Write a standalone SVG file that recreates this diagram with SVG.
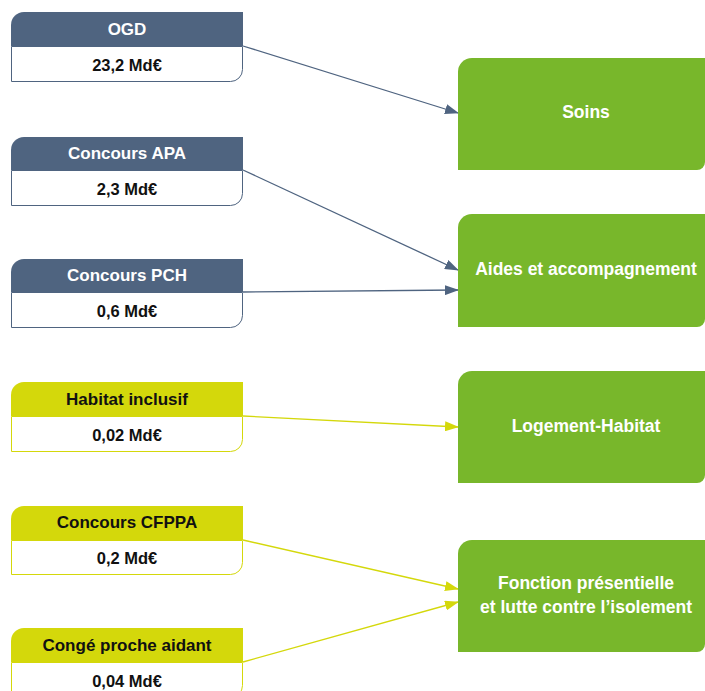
<svg xmlns="http://www.w3.org/2000/svg" width="705" height="691" viewBox="0 0 705 691">
<defs>
<style>
.hd{font-family:"Liberation Sans",Arial,sans-serif;font-weight:bold;font-size:17px;text-anchor:middle}
.val{font-family:"Liberation Sans",Arial,sans-serif;font-weight:bold;font-size:16.5px;fill:#111;text-anchor:middle}
.rt{font-family:"Liberation Sans",Arial,sans-serif;font-weight:bold;font-size:17.5px;fill:#fff;text-anchor:middle}
.blue{fill:#4f6480}
.yel{fill:#d4d80b}
.green{fill:#78b72b}
.bb{fill:#fff;stroke:#4f6480;stroke-width:1}
.yb{fill:#fff;stroke:#d4d80b;stroke-width:1}
.cb{stroke:#4f6480;stroke-width:1.3;fill:none;marker-end:url(#ab)}
.cy{stroke:#d4d80b;stroke-width:1.3;fill:none;marker-end:url(#ay)}
</style>
<marker id="ab" markerWidth="14" markerHeight="10" refX="13" refY="5" orient="auto" markerUnits="userSpaceOnUse"><path d="M0,0 L14,5 L0,10 Z" fill="#4f6480"/></marker>
<marker id="ay" markerWidth="14" markerHeight="10" refX="13" refY="5" orient="auto" markerUnits="userSpaceOnUse"><path d="M0,0 L14,5 L0,10 Z" fill="#d4d80b"/></marker>
</defs>
<rect width="705" height="691" fill="#fff"/>
<g id="connectors">
<line class="cb" x1="243" y1="46" x2="458" y2="113"/>
<line class="cb" x1="243" y1="170" x2="458" y2="270"/>
<line class="cb" x1="243" y1="292" x2="458" y2="290"/>
<line class="cy" x1="243" y1="416" x2="458" y2="427"/>
<line class="cy" x1="243" y1="540" x2="458" y2="589"/>
<line class="cy" x1="243" y1="662" x2="458" y2="602"/>
</g>
<g id="ogd">
<path class="bb" d="M11.5,46.5 H242.5 V69.5 A12,12 0 0 1 230.5,81.5 H11.5 Z"/>
<path class="blue" d="M11,46 V25 A13,13 0 0 1 24,12 H243 V46 Z"/>
<text class="hd" x="127" y="35" fill="#fff">OGD</text>
<text class="val" x="127" y="71">23,2 Md€</text>
</g>
<g id="apa">
<path class="bb" d="M11.5,170.5 H242.5 V193.5 A12,12 0 0 1 230.5,205.5 H11.5 Z"/>
<path class="blue" d="M11,170 V150 A13,13 0 0 1 24,137 H243 V170 Z"/>
<text class="hd" x="127" y="159" fill="#fff">Concours APA</text>
<text class="val" x="127" y="195">2,3 Md€</text>
</g>
<g id="pch">
<path class="bb" d="M11.5,292.5 H242.5 V315.5 A12,12 0 0 1 230.5,327.5 H11.5 Z"/>
<path class="blue" d="M11,292 V272 A13,13 0 0 1 24,259 H243 V292 Z"/>
<text class="hd" x="127" y="281" fill="#fff">Concours PCH</text>
<text class="val" x="127" y="317">0,6 Md€</text>
</g>
<g id="habitat">
<path class="yb" d="M11.5,416.5 H242.5 V439.5 A12,12 0 0 1 230.5,451.5 H11.5 Z"/>
<path class="yel" d="M11,416 V395 A13,13 0 0 1 24,382 H243 V416 Z"/>
<text class="hd" x="127" y="405" fill="#111">Habitat inclusif</text>
<text class="val" x="127" y="441">0,02 Md€</text>
</g>
<g id="cfppa">
<path class="yb" d="M11.5,540.5 H242.5 V562.5 A12,12 0 0 1 230.5,574.5 H11.5 Z"/>
<path class="yel" d="M11,540 V519 A13,13 0 0 1 24,506 H243 V540 Z"/>
<text class="hd" x="127" y="528" fill="#111">Concours CFPPA</text>
<text class="val" x="127" y="564">0,2 Md€</text>
</g>
<g id="conge">
<path class="yb" d="M11.5,662.5 H242.5 V685.5 A12,12 0 0 1 230.5,697.5 H11.5 Z"/>
<path class="yel" d="M11,662 V641 A13,13 0 0 1 24,628 H243 V662 Z"/>
<text class="hd" x="127" y="651" fill="#111">Congé proche aidant</text>
<text class="val" x="127" y="687">0,04 Md€</text>
</g>
<g id="soins">
<path class="green" d="M458,170 V72 A14,14 0 0 1 472,58 H705 V162 A8,8 0 0 1 697,170 Z"/>
<text class="rt" x="586" y="118">Soins</text>
</g>
<g id="aides">
<path class="green" d="M458,327 V228 A14,14 0 0 1 472,214 H705 V319 A8,8 0 0 1 697,327 Z"/>
<text class="rt" x="586" y="275">Aides et accompagnement</text>
</g>
<g id="logement">
<path class="green" d="M458,483 V385 A14,14 0 0 1 472,371 H705 V475 A8,8 0 0 1 697,483 Z"/>
<text class="rt" x="586" y="432">Logement-Habitat</text>
</g>
<g id="fonction">
<path class="green" d="M458,652 V554 A14,14 0 0 1 472,540 H705 V644 A8,8 0 0 1 697,652 Z"/>
<text class="rt" x="586" y="589">Fonction présentielle</text>
<text class="rt" x="586" y="613">et lutte contre l’isolement</text>
</g>
</svg>
